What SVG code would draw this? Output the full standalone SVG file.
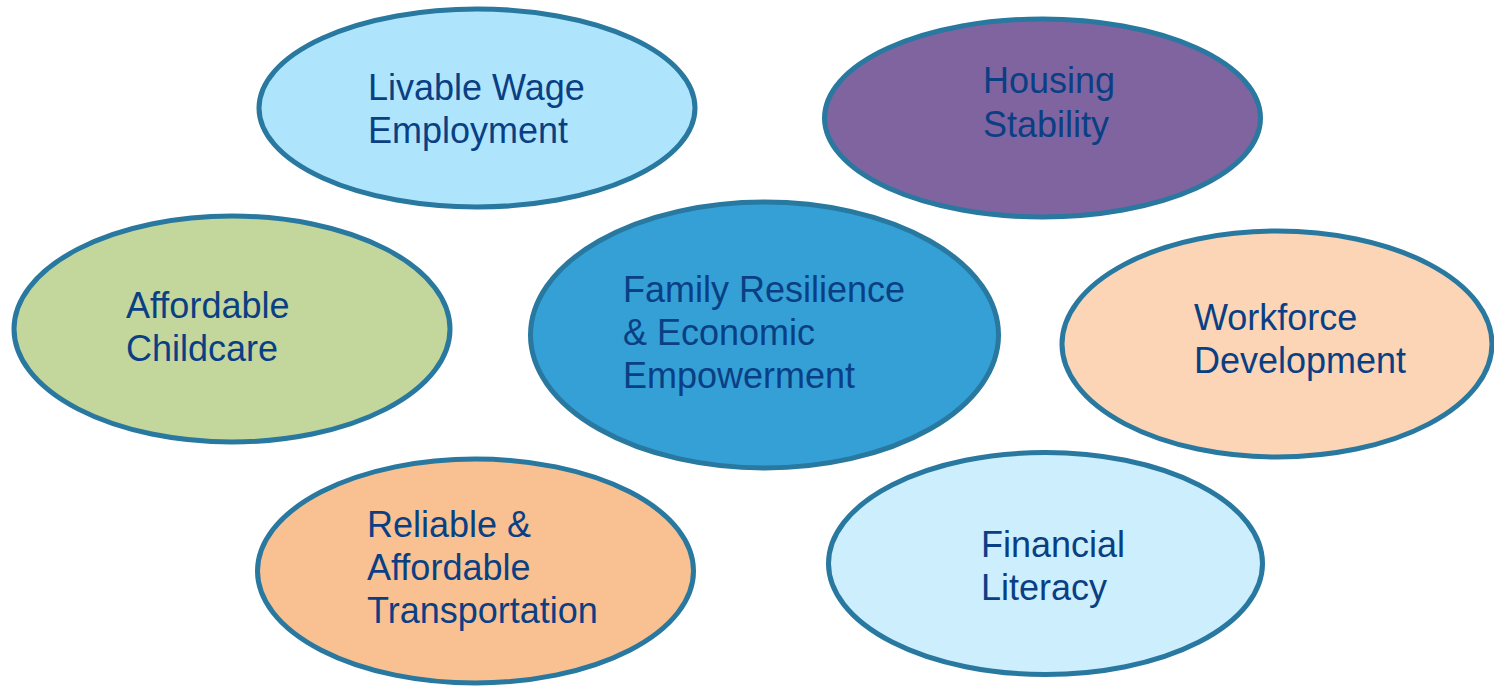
<svg xmlns="http://www.w3.org/2000/svg" width="1494" height="686" viewBox="0 0 1494 686">
<style>
.n{stroke:#2878A0;stroke-width:5}
.t{font-family:"Liberation Sans",Arial,sans-serif;font-size:36px;fill:#0A3F84}
</style>
<rect width="1494" height="686" fill="#FFFFFF"/>
<g id="connectors"></g>
<g id="livable-wage">
<ellipse class="n" cx="477" cy="108" rx="218" ry="99" fill="#AEE5FD"/>
<text class="t" x="368"><tspan x="368" y="100">Livable Wage</tspan><tspan x="368" y="143">Employment</tspan></text>
</g>
<g id="housing">
<ellipse class="n" cx="1042.5" cy="118" rx="218" ry="99" fill="#8064A0"/>
<text class="t"><tspan x="983" y="93">Housing</tspan><tspan x="983" y="137">Stability</tspan></text>
</g>
<g id="childcare">
<ellipse class="n" cx="232" cy="329" rx="218" ry="113" fill="#C3D69C"/>
<text class="t"><tspan x="126" y="318">Affordable</tspan><tspan x="126" y="361">Childcare</tspan></text>
</g>
<g id="center">
<ellipse class="n" cx="764.5" cy="335" rx="234" ry="133" fill="#34A0D6"/>
<text class="t"><tspan x="623" y="302">Family Resilience</tspan><tspan x="623" y="345">&amp; Economic</tspan><tspan x="623" y="388">Empowerment</tspan></text>
</g>
<g id="workforce">
<ellipse class="n" cx="1277" cy="344" rx="215" ry="113" fill="#FBD5B5"/>
<text class="t"><tspan x="1194" y="330">Workforce</tspan><tspan x="1194" y="373">Development</tspan></text>
</g>
<g id="transportation">
<ellipse class="n" cx="475.5" cy="571" rx="218" ry="112" fill="#F9C191"/>
<text class="t"><tspan x="367" y="537">Reliable &amp;</tspan><tspan x="367" y="580">Affordable</tspan><tspan x="367" y="623">Transportation</tspan></text>
</g>
<g id="financial">
<ellipse class="n" cx="1045.5" cy="563.5" rx="217" ry="111" fill="#CDEEFD"/>
<text class="t"><tspan x="981" y="557">Financial</tspan><tspan x="981" y="600">Literacy</tspan></text>
</g>
</svg>
